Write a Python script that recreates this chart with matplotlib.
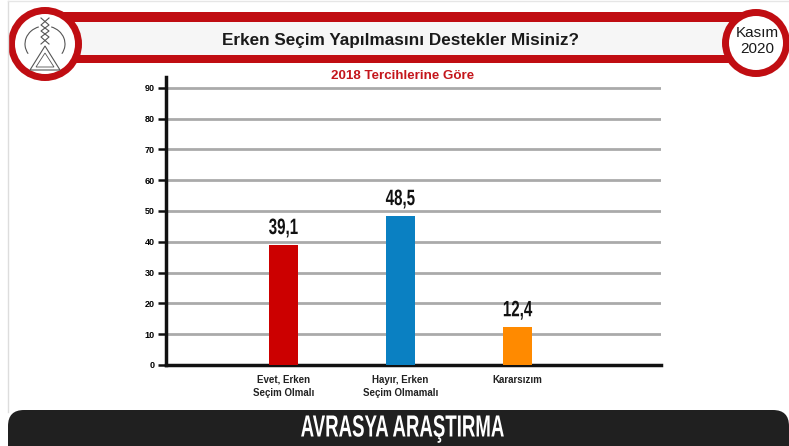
import matplotlib
matplotlib.use("Agg")
import matplotlib.pyplot as plt
from matplotlib.patches import Rectangle, Circle, FancyBboxPatch, Polygon, Arc
from matplotlib.patheffects import AbstractPathEffect
from matplotlib.transforms import Affine2D

# ---------------- data ----------------
categories = ["Evet, Erken\nSeçim Olmalı", "Hayır, Erken\nSeçim Olmamalı", "Kararsızım"]
values = [39.1, 48.5, 12.4]
bar_colors = ["#cc0000", "#0a80c2", "#ff8a00"]
yticks = [0, 10, 20, 30, 40, 50, 60, 70, 80, 90]

title = "Erken Seçim Yapılmasını Destekler Misiniz?"
subtitle = "2018 Tercihlerine Göre"
date_text = "Kasım\n2020"
footer = "AVRASYA ARAŞTIRMA"

RED = "#c00d12"
W, H = 789, 446


class Squeeze(AbstractPathEffect):
    """draw the text narrower (condensed look), scaled around its own centre"""
    def __init__(self, sx=1.0, sy=1.0):
        super().__init__()
        self.sx, self.sy = sx, sy

    def draw_path(self, renderer, gc, tpath, affine, rgbFace=None):
        ext = tpath.get_extents()
        cx = (ext.x0 + ext.x1) / 2
        cy = (ext.y0 + ext.y1) / 2
        t = Affine2D().translate(-cx, -cy).scale(self.sx, self.sy).translate(cx, cy)
        renderer.draw_path(gc, tpath, t + affine, rgbFace)


plt.rcParams['font.family'] = ['Liberation Sans', 'DejaVu Sans']

fig = plt.figure(figsize=(W / 100, H / 100), dpi=100)
fig.patch.set_facecolor("white")

# ---------- decoration layer in pixel coords ----------
deco = fig.add_axes([0, 0, 1, 1], zorder=0)
deco.set_xlim(0, W)
deco.set_ylim(H, 0)
deco.axis("off")

# thin frame
deco.plot([8, 8], [1, 412], color="#dddddd", lw=1)
deco.plot([8, W], [1, 1], color="#e6e6e6", lw=1)

# header band
deco.add_patch(Rectangle((40, 12), 720, 51, facecolor=RED, edgecolor="none"))
deco.add_patch(Rectangle((40, 22), 700, 33, facecolor="#f6f6f6", edgecolor="none"))
deco.text(401, 40, title, ha="center", va="center", fontsize=12.3, fontweight="bold",
          color="#1a1a1a")

# left logo circle
deco.add_patch(Circle((45, 44), 37, facecolor=RED, edgecolor="none"))
deco.add_patch(Circle((45, 44), 30, facecolor="white", edgecolor="none"))
lc = "#555555"
deco.add_patch(Polygon([[45, 46], [30, 70], [60, 70]], closed=True, fill=False,
                       edgecolor=lc, lw=0.8))
deco.add_patch(Polygon([[45, 53], [36, 67], [54, 67]], closed=True, fill=False,
                       edgecolor=lc, lw=0.6))
deco.add_patch(Arc((45, 44), 40, 36, theta1=150, theta2=250, color=lc, lw=0.8))
deco.add_patch(Arc((45, 44), 40, 36, theta1=290, theta2=390, color=lc, lw=0.8))
deco.plot([41, 49, 41, 49, 41], [18, 25, 31, 37, 44], color=lc, lw=0.8)
deco.plot([49, 41, 49, 41, 49], [18, 25, 31, 37, 44], color=lc, lw=0.8)

# right date circle
deco.add_patch(Circle((756, 43), 34, facecolor=RED, edgecolor="none"))
deco.add_patch(Circle((756, 43), 27, facecolor="white", edgecolor="none"))
deco.text(757, 41, date_text, ha="center", va="center", fontsize=11,
          color="#1a1a1a", linespacing=1.25)

# subtitle
deco.text(403, 76, subtitle, ha="center", va="center", fontsize=9.6,
          fontweight="bold", color="#c4161c")

# footer
deco.add_patch(FancyBboxPatch((8, 410), W - 8, 60,
                              boxstyle="round,pad=0,rounding_size=16",
                              facecolor="#202020", edgecolor="none"))
deco.text(402, 428.5, footer, ha="center", va="center", fontsize=22,
          fontweight="bold", color="white", path_effects=[Squeeze(0.61, 1.0)])

# ---------------- chart ----------------
ax = fig.add_axes([166 / W, 1 - 365 / H, (661 - 166) / W, (365 - 77) / H], zorder=1)
ax.patch.set_alpha(0)
x = range(len(categories))
bars = ax.bar(x, values, width=0.254, color=bar_colors, zorder=3)
ax.bar_label(bars, labels=[f"{v:.1f}".replace(".", ",") for v in values],
             padding=4, fontsize=16, fontweight="bold", color="#111111",
             path_effects=[Squeeze(0.68, 1.0)])

ax.set_xlim(-1.004, 3.228)
ax.set_ylim(0, 93.5)
ax.set_yticks(yticks)
ax.set_yticklabels([str(t) for t in yticks], fontsize=6.5, fontweight="bold")
ax.yaxis.grid(True, color="#aaaaaa", lw=2, zorder=0)
ax.set_axisbelow(True)

ax.set_xticks(list(x))
ax.set_xticklabels(categories, fontsize=7, fontweight="bold", color="#222222",
                   linespacing=1.35)
ax.tick_params(axis="x", length=0, pad=7)
ax.tick_params(axis="y", length=6, width=1.8, pad=2, color="#111111")

for s in ["top", "right"]:
    ax.spines[s].set_visible(False)
ax.spines["left"].set_linewidth(2.5)
ax.spines["bottom"].set_linewidth(2.5)
ax.spines["left"].set_color("#111111")
ax.spines["bottom"].set_color("#111111")

fig.savefig("out.png", dpi=100)
